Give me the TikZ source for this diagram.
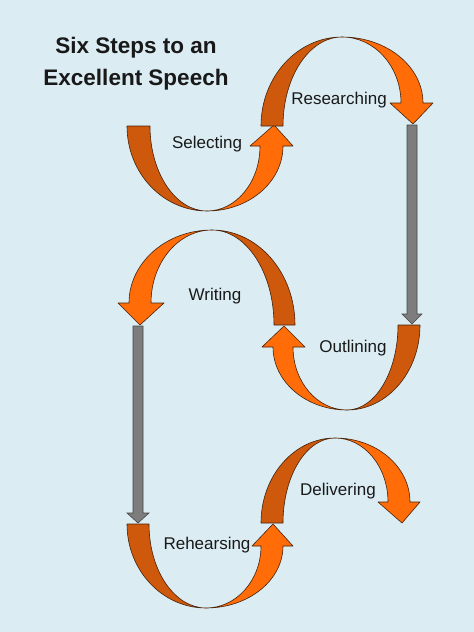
\documentclass[tikz,border=0pt]{standalone}
\usepackage{fontspec}
\setmainfont{Liberation Sans}
\definecolor{bgblue}{RGB}{219,236,243}
\definecolor{ribbondark}{RGB}{206,88,12}
\definecolor{ribbonlight}{RGB}{255,108,8}
\definecolor{ribbonline}{RGB}{70,35,10}
\definecolor{bargray}{RGB}{125,125,125}
\definecolor{barline}{RGB}{70,70,70}
\begin{document}
\begin{tikzpicture}[x=1pt, y=-1pt,
    back/.style={fill=ribbondark, draw=ribbonline, line width=0.6pt, line join=round},
    front/.style={fill=ribbonlight, draw=ribbonline, line width=0.6pt, line join=round},
    bar/.style={fill=bargray, draw=barline, line width=0.6pt},
    steplabel/.style={fill=bgblue, inner sep=1pt, text=black!90, font=\fontsize{17}{20}\selectfont}]
  \fill[bgblue] (0,0) rectangle (474,632);
  \useasboundingbox (0,0) rectangle (474,632);

  % Selecting
  \draw[back] (127,126) arc[start angle=180, end angle=90, x radius=80, y radius=85]
    arc[start angle=90, end angle=180, x radius=57, y radius=85] -- cycle;
  \draw[front] (207,211) arc[start angle=90, end angle=0, x radius=76, y radius=65]
    -- (293,146) -- (274,125) -- (250,146) -- (260,146)
    arc[start angle=0, end angle=90, x radius=53, y radius=65] -- cycle;

  % Researching
  \draw[back] (261,126) arc[start angle=180, end angle=270, x radius=81, y radius=89]
    arc[start angle=270, end angle=180, x radius=59, y radius=89] -- cycle;
  \draw[front] (342,37) arc[start angle=270, end angle=360, x radius=81, y radius=66]
    -- (433,103) -- (413,124) -- (390,103) -- (401,103)
    arc[start angle=0, end angle=-90, x radius=59, y radius=66] -- cycle;
  \draw[bar] (407,125) -- (417,125) -- (417,314) -- (422,314) -- (412,324)
    -- (402,314) -- (407,314) -- cycle;

  % Outlining
  \draw[back] (420,325) arc[start angle=0, end angle=90, x radius=73, y radius=85]
    arc[start angle=90, end angle=0, x radius=51, y radius=85] -- cycle;
  \draw[front] (347,410) arc[start angle=90, end angle=180, x radius=74, y radius=63]
    -- (262,347) -- (284,326) -- (305,347) -- (293,347)
    arc[start angle=180, end angle=90, x radius=54, y radius=63] -- cycle;

  % Writing
  \draw[back] (295,325) arc[start angle=0, end angle=-90, x radius=83, y radius=95]
    arc[start angle=-90, end angle=0, x radius=62, y radius=95] -- cycle;
  \draw[front] (212,230) arc[start angle=270, end angle=180, x radius=83, y radius=73]
    -- (118,303) -- (140,325) -- (164,303) -- (151,303)
    arc[start angle=180, end angle=270, x radius=61, y radius=73] -- cycle;
  \draw[bar] (133,326) -- (143,326) -- (143,513) -- (149,513) -- (138,523)
    -- (127,513) -- (133,513) -- cycle;

  % Rehearsing
  \draw[back] (127,524) arc[start angle=180, end angle=90, x radius=79, y radius=84]
    arc[start angle=90, end angle=180, x radius=57, y radius=84] -- cycle;
  \draw[front] (206,608) arc[start angle=90, end angle=0, x radius=77, y radius=62]
    -- (293,546) -- (273,524) -- (252,546) -- (261,546)
    arc[start angle=0, end angle=90, x radius=55, y radius=62] -- cycle;

  % Delivering
  \draw[back] (261,523) arc[start angle=180, end angle=270, x radius=74, y radius=85]
    arc[start angle=270, end angle=180, x radius=52, y radius=85] -- cycle;
  \draw[front] (335,438) arc[start angle=270, end angle=360, x radius=75, y radius=64]
    -- (420,502) -- (402,523) -- (378,502) -- (388,502)
    arc[start angle=0, end angle=-90, x radius=53, y radius=64] -- cycle;

  \node[font=\fontsize{22.5}{32}\selectfont\bfseries, text=black!90, align=center] (title) at (136,64) {Six Steps to an\\Excellent Speech};
  \node[steplabel] (selecting) at (207,144) {Selecting};
  \node[steplabel] (researching) at (339,100) {Researching};
  \node[steplabel] (writing) at (215,296) {Writing};
  \node[steplabel] (outlining) at (353,348) {Outlining};
  \node[steplabel] (rehearsing) at (207,545) {Rehearsing};
  \node[steplabel] (delivering) at (338,491) {Delivering};
\end{tikzpicture}
\end{document}
